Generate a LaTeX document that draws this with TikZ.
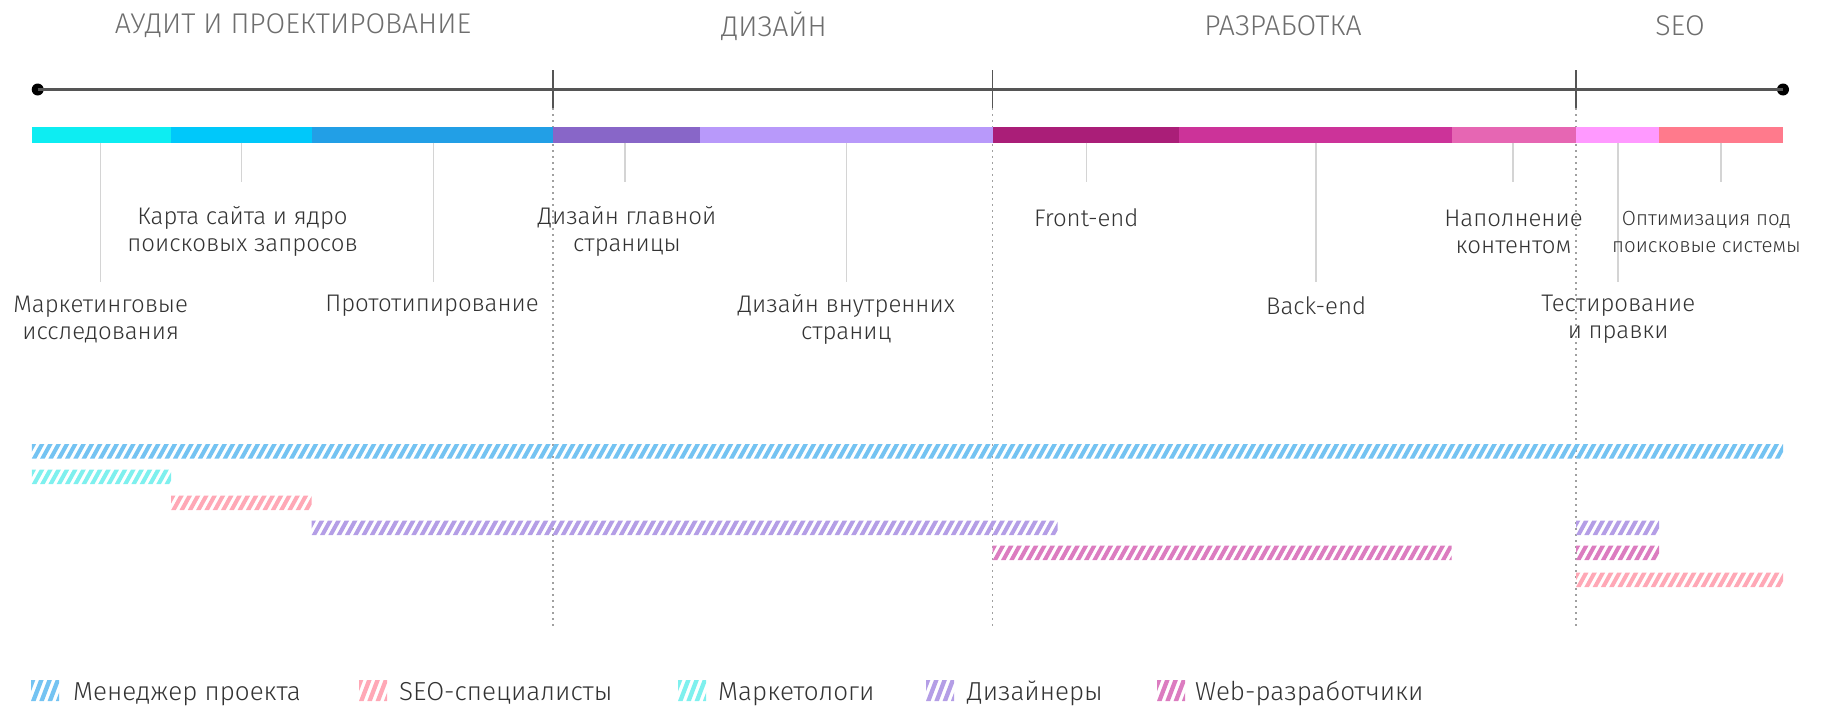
\documentclass[tikz,border=0pt]{standalone}
\usepackage{fontspec}
\setmainfont{Fira Sans Light}
\definecolor{txt}{HTML}{333333}
\definecolor{ph}{HTML}{6E6E6E}
\definecolor{ldr}{HTML}{D4D4D4}
\definecolor{tln}{HTML}{555555}
\definecolor{dtl}{HTML}{A0A0A0}
\definecolor{s1}{HTML}{0DEDF2}
\definecolor{s2}{HTML}{00C8FA}
\definecolor{s3}{HTML}{229FE6}
\definecolor{s4}{HTML}{8866C8}
\definecolor{s5}{HTML}{B899FA}
\definecolor{s6}{HTML}{AA1E78}
\definecolor{s7}{HTML}{CC3399}
\definecolor{s8}{HTML}{E666B3}
\definecolor{s9}{HTML}{FF99FF}
\definecolor{s10}{HTML}{FF7A8C}
\definecolor{hman}{HTML}{74C3F2}
\definecolor{hmkt}{HTML}{7EF0EE}
\definecolor{hseo}{HTML}{FFA8B6}
\definecolor{hdes}{HTML}{B49EE6}
\definecolor{hweb}{HTML}{DC7CC0}
\newcommand{\hatchbar}[5]{%
  \begin{scope}
    \clip ({#1},{#3}) rectangle ({#2},{#4});
    \pgfmathtruncatemacro{\nstr}{(#2-#1)/8.3+2}
    \foreach \k in {-3,...,\nstr}{
      \fill[#5] ({#1+\k*8.3},{#4}) -- ++(4.6,0) -- ({#1+\k*8.3+4.6+8},{#3}) -- ({#1+\k*8.3+8},{#3}) -- cycle;
    }
  \end{scope}}
\begin{document}
\begin{tikzpicture}[x=1pt,y=-1pt,
  lbl/.style={font=\fontsize{24}{27}\selectfont, text=txt, align=center, inner sep=0pt},
  phase/.style={font=\fontsize{28.5}{32}\selectfont, text=ph, inner sep=0pt},
  leg/.style={font=\fontsize{26}{30}\selectfont, text=txt, anchor=base west, inner sep=0pt},
  leader/.style={draw=ldr, line width=1.5pt},
  tickln/.style={draw=tln, line width=1.5pt},
  dotln/.style={draw=dtl, line width=1.5pt, dash pattern=on 2pt off 4pt},
  dotnode/.style={circle, fill=black, minimum size=12pt, inner sep=0pt}]
\useasboundingbox (0,0) rectangle (1836,707);

% phase titles
\node[phase] (p1) at (293,26) {АУДИТ И ПРОЕКТИРОВАНИЕ};
\node[phase] (p2) at (774,26) {ДИЗАЙН};
\node[phase] (p3) at (1283,26) {РАЗРАБОТКА};
\node[phase] (p4) at (1680,26) {SEO};

% timeline
\node[dotnode] (d0) at (37.7,89.5) {};
\node[dotnode] (d1) at (1783,89.5) {};
\draw[draw=tln, line width=2.5pt] (d0.center) -- (d1.center);

% dividers
\foreach \n/\x in {1/553, 2/992.7, 3/1576}{
  \coordinate (v\n t) at (\x,70);
  \coordinate (v\n m) at (\x,108);
  \coordinate (v\n b) at (\x,628);
  \draw[tickln] (v\n t) -- (v\n m);
  \draw[dotln] (v\n m) -- (v\n b);
}

% colour bar
\fill[s1] (31.8,127) rectangle (171.2,142.5);
\fill[s2] (171.2,127) rectangle (311.7,142.5);
\fill[s3] (311.7,127) rectangle (553,142.5);
\fill[s4] (553,127) rectangle (699.7,142.5);
\fill[s5] (699.7,127) rectangle (992.7,142.5);
\fill[s6] (992.7,127) rectangle (1178.8,142.5);
\fill[s7] (1178.8,127) rectangle (1451.6,142.5);
\fill[s8] (1451.6,127) rectangle (1576,142.5);
\fill[s9] (1576,127) rectangle (1659.2,142.5);
\fill[s10] (1659.2,127) rectangle (1783.2,142.5);

% leaders and labels
\foreach \n/\x/\y in {1/100.7/282, 2/241.6/182, 3/433.7/282, 4/624.9/182, 5/846.3/282,
                      6/1086.3/182, 7/1316.1/282, 8/1513.1/182, 9/1618.2/282, 10/1721.2/182}{
  \coordinate (a\n) at (\x,142.5);
  \coordinate (b\n) at (\x,\y);
  \draw[leader] (a\n) -- (b\n);
}
\node[lbl] (l1) at (100.7,319.5) {Маркетинговые\\исследования};
\node[lbl] (l2) at (242.5,231.5) {Карта сайта и ядро\\поисковых запросов};
\node[lbl] (l3) at (432,306) {Прототипирование};
\node[lbl] (l4) at (627,231.5) {Дизайн главной\\страницы};
\node[lbl] (l5) at (846.3,319.5) {Дизайн внутренних\\страниц};
\node[lbl] (l6) at (1086.3,218) {Front-end};
\node[lbl] (l7) at (1316.1,306) {Back-end};
\node[lbl] (l8) at (1513.5,231.5) {Наполнение\\контентом};
\node[lbl] (l9) at (1618.2,319.5) {Тестирование\\и правки};
\node[lbl, font=\fontsize{20.5}{27}\selectfont, anchor=east] (l10) at (1801,231.5) {Оптимизация под\\поисковые системы};

% hatched resource bars
\hatchbar{31.8}{1783.2}{444}{458.5}{hman}
\hatchbar{31.8}{171.2}{469.5}{484}{hmkt}
\hatchbar{171.2}{311.7}{495.5}{510}{hseo}
\hatchbar{311.7}{1057.5}{520.5}{535}{hdes}
\hatchbar{992.7}{1451.6}{545.5}{560}{hweb}
\hatchbar{1576}{1659.2}{520.5}{535}{hdes}
\hatchbar{1576}{1659.2}{545.5}{560}{hweb}
\hatchbar{1576}{1783.2}{572.5}{587}{hseo}

% legend
\hatchbar{31}{59}{680}{701}{hman}
\node[leg] (g1) at (73,700) {Менеджер проекта};
\hatchbar{359}{387}{680}{701}{hseo}
\node[leg] (g2) at (399,700) {SEO-специалисты};
\hatchbar{678}{706}{680}{701}{hmkt}
\node[leg] (g3) at (718,700) {Маркетологи};
\hatchbar{926}{954}{680}{701}{hdes}
\node[leg] (g4) at (967,700) {Дизайнеры};
\hatchbar{1157}{1185}{680}{701}{hweb}
\node[leg] (g5) at (1195,700) {Web-разработчики};
\end{tikzpicture}
\end{document}
